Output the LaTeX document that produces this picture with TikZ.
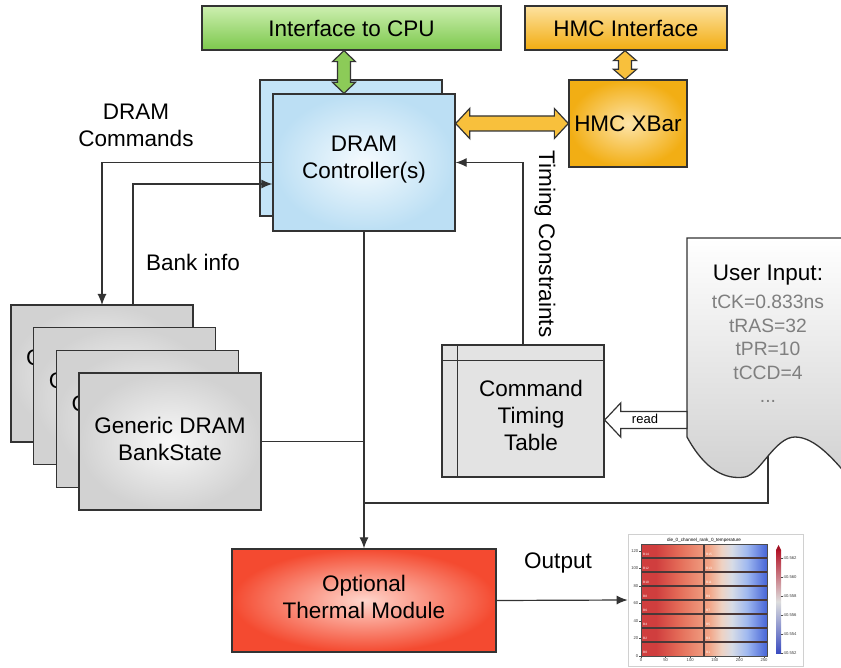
\documentclass[tikz,border=0pt]{standalone}
\usepackage{fontspec}
\setmainfont{Liberation Sans}
\usetikzlibrary{calc,arrows.meta}

\newcommand\mainsize{\fontsize{22.5}{27}\selectfont}
\newcommand\valsize{\fontsize{19.3}{23.5}\selectfont}
\newcommand\tinysize{\fontsize{4.2}{4.6}\selectfont}

\definecolor{edge}{HTML}{333333}
\definecolor{wire}{HTML}{333333}
\definecolor{cpuTop}{HTML}{CDEFB0}
\definecolor{cpuBot}{HTML}{7CC84C}
\definecolor{hmcTop}{HTML}{FDE2A0}
\definecolor{hmcBot}{HTML}{F2AC10}
\definecolor{xbarIn}{HTML}{FDE4A8}
\definecolor{xbarOut}{HTML}{F2AE14}
\definecolor{ctrlIn}{HTML}{F5FBFE}
\definecolor{ctrlOut}{HTML}{BCDFF4}
\definecolor{ctrlBack}{HTML}{C4E4F7}
\definecolor{bankIn}{HTML}{F8F8F8}
\definecolor{bankOut}{HTML}{D2D2D2}
\definecolor{tableFill}{HTML}{E3E3E3}
\definecolor{heatIn}{HTML}{FFD6CC}
\definecolor{heatOut}{HTML}{F44A30}
\definecolor{greenArrow}{HTML}{8CCB58}
\definecolor{orangeArrow}{HTML}{F8C03C}
\definecolor{valGray}{HTML}{7F7F7F}
\definecolor{uiBot}{HTML}{D0D0D0}
\definecolor{frame}{HTML}{D0D0D0}
\definecolor{cellLine}{HTML}{4A3838}
% coolwarm-like stops for the temperature map
\definecolor{cw0}{RGB}{208,62,62}
\definecolor{cw1}{RGB}{228,108,88}
\definecolor{cw2}{RGB}{242,165,135}
\definecolor{cw3}{RGB}{238,210,195}
\definecolor{cw4}{RGB}{215,220,230}
\definecolor{cw5}{RGB}{160,185,240}
\definecolor{cw6}{RGB}{70,100,215}
\definecolor{cbTop}{RGB}{180,20,40}
\definecolor{cbMid}{RGB}{221,221,221}
\definecolor{cbBot}{RGB}{59,76,192}

\pgfdeclarehorizontalshading{coolwarm}{100bp}{%
  color(0bp)=(cw0); color(25bp)=(cw0); color(31bp)=(cw0);
  color(40bp)=(cw1); color(52bp)=(cw2); color(57bp)=(cw3);
  color(61bp)=(cw4); color(67bp)=(cw5); color(75bp)=(cw6); color(100bp)=(cw6)}

% vertical double block arrow between two tips (top, bottom)
\newcommand\blockvv[6]{%
  \path let \p1=#2, \p2=#3 in [#1]
    (\x1,\y1) -- (\x1+#5pt,\y1-#6pt) -- (\x1+#4pt,\y1-#6pt) -- (\x1+#4pt,\y2+#6pt)
    -- (\x1+#5pt,\y2+#6pt) -- (\x1,\y2) -- (\x1-#5pt,\y2+#6pt) -- (\x1-#4pt,\y2+#6pt)
    -- (\x1-#4pt,\y1-#6pt) -- (\x1-#5pt,\y1-#6pt) -- cycle;}
% horizontal double block arrow between two tips (left, right)
\newcommand\blockhh[6]{%
  \path let \p1=#2, \p2=#3 in [#1]
    (\x1,\y1) -- (\x1+#6pt,\y1+#5pt) -- (\x1+#6pt,\y1+#4pt) -- (\x2-#6pt,\y1+#4pt)
    -- (\x2-#6pt,\y1+#5pt) -- (\x2,\y1) -- (\x2-#6pt,\y1-#5pt) -- (\x2-#6pt,\y1-#4pt)
    -- (\x1+#6pt,\y1-#4pt) -- (\x1+#6pt,\y1-#5pt) -- cycle;}

\begin{document}
\begin{tikzpicture}[x=1pt,y=-1pt,
  box/.style={draw=edge, line width=1.3pt, inner sep=0pt, align=center, font=\mainsize},
  bankbox/.style={box, minimum width=182pt, minimum height=137pt,
    inner color=bankIn, outer color=bankOut},
  lbl/.style={font=\mainsize, align=center, inner sep=0pt},
  link/.style={draw=wire, line width=1.2pt},
  tip/.style={-{Latex[length=11pt,width=9pt]}},
  blockarrow/.style={draw=edge, line width=1.2pt, line join=miter},
  cellline/.style={draw=cellLine, line width=1.5pt},
  ticklbl/.style={font=\tinysize, text=black!75, inner sep=0.5pt},
  cellbl/.style={font=\fontsize{3.2}{3.5}\selectfont, text=white, inner sep=0pt, anchor=west}]

\useasboundingbox (0,0) rectangle (841,668);

% ---- interfaces ----
\node[box, minimum width=299pt, minimum height=44pt, top color=cpuTop, bottom color=cpuBot]
  (cpu) at (351.5,28) {Interface to CPU};
\node[box, minimum width=202pt, minimum height=44pt, top color=hmcTop, bottom color=hmcBot]
  (hmcif) at (626,28) {HMC Interface};

% ---- controller(s) ----
\node[box, minimum width=182pt, minimum height=136pt, fill=ctrlBack] (ctrlback) at (351,148) {};

% DRAM commands and bank info
\draw[link, tip] (273,162.5) coordinate (cmdstart) -| (102,305) coordinate (cmdend);
\coordinate (bankinfo) at (133,305);

\node[box, minimum width=182pt, minimum height=137pt, inner color=ctrlIn, outer color=ctrlOut]
  (ctrl) at (364,162.5) {};
\node[lbl] (ctrltext) at (364,159.5) {DRAM\\Controller(s)};
\draw[link, tip] (bankinfo) |- ($(ctrl.west)+(0,21.5)$);

\node[box, minimum width=118pt, minimum height=87pt, inner color=xbarIn, outer color=xbarOut]
  (xbar) at (628,123.5) {HMC XBar};

% block arrows
\coordinate (gx) at (344,0);
\coordinate (ox) at (625,0);
\blockvv{blockarrow, fill=greenArrow}{(cpu.south -| gx)}{(ctrl.north -| gx)}{6.5}{11.5}{11}
\blockvv{blockarrow, fill=orangeArrow}{(hmcif.south -| ox)}{(xbar.north -| ox)}{6.5}{11.5}{10}
\blockhh{blockarrow, fill=orangeArrow}{(ctrl.east |- xbar.west)}{(xbar.west)}{7.5}{15}{14}

% labels
\node[lbl] (cmdlbl) at (136,125) {DRAM\\Commands};
\node[lbl] (banklbl) at (193,262) {Bank info};
\node[lbl, rotate=-90] (timlbl) at (545,244) {Timing Constraints};
\node[lbl] (outlbl) at (558,563) {Output};

% ---- bank states (stacked; only the front one is fully visible) ----
\node[bankbox] (b1) at (102,373.5) {};
\node[lbl, anchor=west] (g1) at (26,358) {G};
\node[bankbox] (b2) at (124.7,396.2) {};
\node[lbl, anchor=west] (g2) at (48.7,380.7) {G};
\node[bankbox] (b3) at (147.3,419) {};
\node[lbl, anchor=west] (g3) at (71.3,403.5) {G};
\node[bankbox] (b4) at (170,441.5) {};
\node[lbl] (b4text) at (170,438.5) {Generic DRAM\\BankState};

% ---- command timing table ----
\node[box, minimum width=162pt, minimum height=132pt, fill=tableFill] (table) at (523,411) {};
\draw[edge, line width=1.2pt] ($(table.north west)+(16,0)$) -- ($(table.south west)+(16,0)$);
\draw[edge, line width=1.2pt] ($(table.north west)+(0,16)$) -- ($(table.north east)+(0,16)$);
\node[lbl] (tabletext) at (531,415) {Command\\Timing\\Table};
\draw[link, tip] (table.north) |- (ctrl.east);

% ---- user input document ----
\begin{scope}
  \clip (0,0) rectangle (841,668);
  \path[draw=edge, line width=1.3pt, top color=white, bottom color=uiBot]
    (687,238) -- (687,437)
    .. controls (705,470) and (725,480) .. (745,477)
    .. controls (760,474) and (775,437) .. (795,437)
    .. controls (815,437) and (835,460) .. (855,485)
    -- (880,485) -- (880,238) -- cycle;
\end{scope}
\node[lbl] (ui) at (768,275) {User Input:};
\node[lbl, font=\valsize, text=valGray] (uivals) at (768,349)
  {tCK=0.833ns\\tRAS=32\\tPR=10\\tCCD=4\\...};
\coordinate (uiread) at (687,420);
\coordinate (uitail) at (768,456);

% read arrow (hollow)
\path let \p1=(table.east |- uiread), \p2=(uiread) in
  [draw=edge, line width=1.2pt, fill=white, line join=miter]
  (\x1,\y1) -- (\x1+16pt,\y1+17pt) -- (\x1+16pt,\y1+8.5pt) -- (\x2,\y1+8.5pt)
  -- (\x2,\y1-8.5pt) -- (\x1+16pt,\y1-8.5pt) -- (\x1+16pt,\y1-17pt) -- cycle;
\node[font=\fontsize{13}{15}\selectfont, inner sep=0pt] (readlbl) at (645,419) {read};

% ---- thermal module ----
\node[box, minimum width=264pt, minimum height=103pt, inner color=heatIn, outer color=heatOut]
  (thermal) at (364,600.5) {};
\node[lbl] (thermaltext) at (364,597) {Optional\\Thermal Module};

% ---- feeds into the thermal module ----
\coordinate (bus1) at (b4.east -| ctrl.south);
\coordinate (bus2) at (364,503);
\draw[link] (b4.east) -- (bus1);
\draw[link] (uitail) |- (bus2);
\draw[link, tip] (ctrl.south) -- (thermal.north);

% ---- temperature map ----
\node[draw=frame, line width=0.7pt, fill=white, minimum width=175pt, minimum height=132pt,
  inner sep=0pt] (heat) at (715.5,600) {};
\draw[link, tip] (thermal.east) -- (heat.west);

\shade[shading=coolwarm] (641,544) rectangle (767,656);
\foreach \yy in {558,572,...,642} \draw[cellline] (641,\yy) -- (767,\yy);
\draw[cellline] (704,544) -- (704,656);
\draw[black!70, line width=0.4pt] (641,544) rectangle (767,656);
\node[font=\fontsize{4.6}{5}\selectfont, inner sep=0pt] (htitle) at (704,540)
  {die\_0\_channel\_rank\_0\_temperature};

\foreach \r in {0,...,7} {
  \pgfmathtruncatemacro\lnum{14-2*\r}
  \pgfmathtruncatemacro\rnum{15-2*\r}
  \pgfmathsetmacro\ly{554+14*\r}
  \node[cellbl] (cl\r) at (643,\ly) {B\lnum};
  \node[cellbl] (cr\r) at (706,\ly) {B\rnum};
}
\foreach \v/\yy in {0/656,20/638.5,40/621,60/603.5,80/586,100/568.5,120/551} {
  \draw[black!70, line width=0.3pt] (641,\yy) -- (639.3,\yy);
  \node[ticklbl, anchor=east] (yt\v) at (639,\yy) {\v};
}
\foreach \v/\xx in {0/641,50/665.6,100/690.2,150/714.8,200/739.4,250/764} {
  \draw[black!70, line width=0.3pt] (\xx,656) -- (\xx,657.7);
  \node[ticklbl, anchor=north] (xt\v) at (\xx,658) {\v};
}
% colour bar
\shade[top color=cbTop, bottom color=cbBot, middle color=cbMid] (776,550) rectangle (781,653);
\fill[cbTop!90!black] (776,550) -- (778.5,545) -- (781,550) -- cycle;
\foreach \t/\yy in {562/558,560/577,558/596,556/615,554/634,552/653} {
  \draw[black!70, line width=0.3pt] (781,\yy) -- (782.7,\yy);
  \node[ticklbl, anchor=west] (cb\t) at (783,\yy) {40.\t};
}
\end{tikzpicture}
\end{document}
